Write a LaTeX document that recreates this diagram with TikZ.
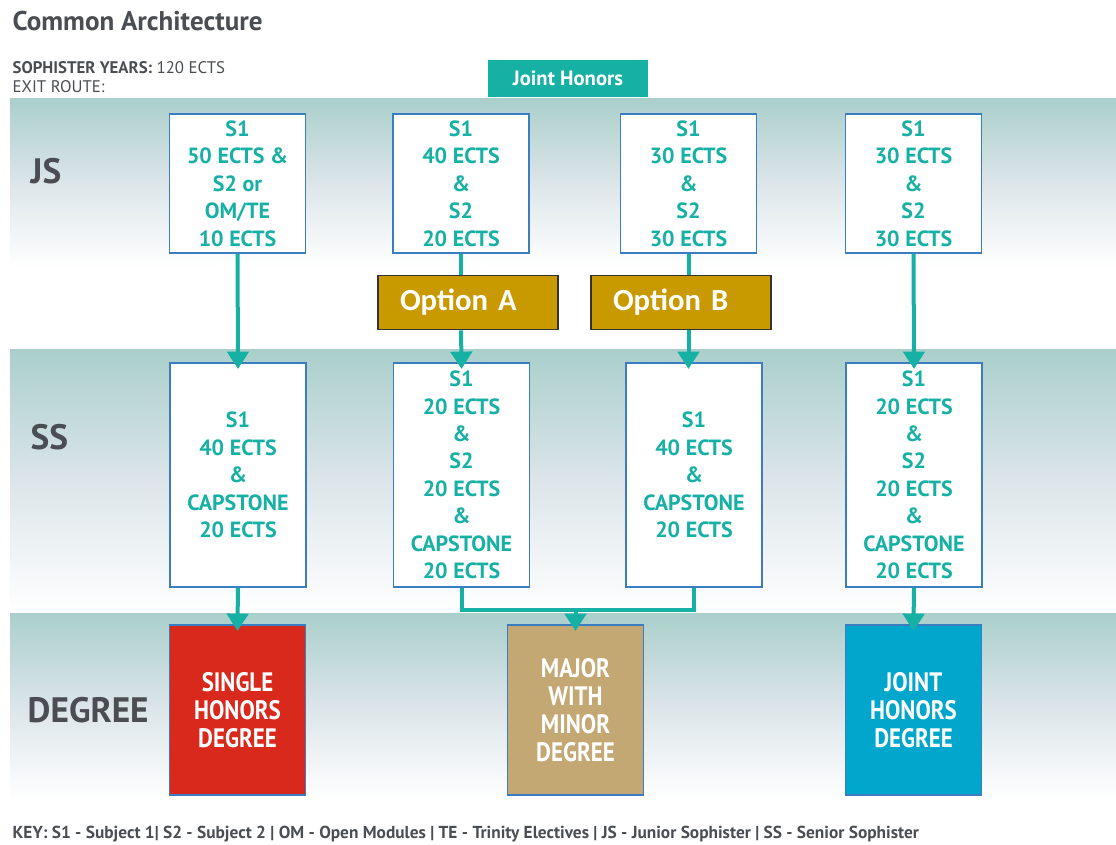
\documentclass[tikz,border=0pt]{standalone}
\usepackage{fontspec}
\setmainfont{PT Sans}
\newfontfamily\optfont{Carlito}
\newfontfamily\condfont[FakeStretch=0.86]{PT Sans}
\usetikzlibrary{arrows.meta,positioning}

\definecolor{tcdteal}{HTML}{16B1A4}
\definecolor{tcdgray}{HTML}{4A4D52}
\definecolor{bandtop}{HTML}{AACFCB}
\definecolor{bandmid}{HTML}{DCE5E9}
\definecolor{boxblue}{HTML}{3A7DC0}
\definecolor{optgold}{HTML}{C99A00}
\definecolor{sglred}{HTML}{D9291C}
\definecolor{majtan}{HTML}{C4A874}
\definecolor{jntblue}{HTML}{00A6CC}

\begin{document}
\begin{tikzpicture}[x=0.75pt,y=-0.75pt,
    modbox/.style={draw=boxblue,line width=1.1pt,fill=white,text=tcdteal,
        font=\bfseries\fontsize{16.5}{20.6}\selectfont,align=center,
        minimum width=102pt,inner sep=0pt},
    optbox/.style={draw=black!80,line width=0.9pt,fill=optgold,text=white,
        font=\optfont\bfseries\fontsize{23}{26}\selectfont,align=left,
        text width=102pt,inner xsep=16.5pt,minimum height=41pt},
    degbox/.style={draw=boxblue,line width=1.1pt,text=white,
        font=\condfont\bfseries\fontsize{20}{21}\selectfont,align=center,
        minimum width=102pt,minimum height=127.5pt,inner sep=0pt},
    rowlabel/.style={anchor=west,text=tcdgray,font=\bfseries\fontsize{26.5}{30}\selectfont},
    band/.style={top color=bandtop,bottom color=white,middle color=bandmid},
    flow/.style={draw=tcdteal,line width=3pt},
    flowarrow/.style={flow,-{Triangle[width=16pt,length=13pt]},shorten >=-5pt}]

\useasboundingbox (0,0) rectangle (1116,844);

% background bands
\shade[band] (10,98) rectangle (1116,267);
\shade[band] (10,349) rectangle (1116,612);
\shade[band] (10,613) rectangle (1116,800);

% headings
\node[anchor=base west,text=tcdgray,font=\bfseries\fontsize{20.3}{24}\selectfont] (title) at (8,30) {Common Architecture};
\node[anchor=base west,text=tcdgray,font=\fontsize{12.6}{14}\selectfont] (years) at (8,73) {\textbf{SOPHISTER YEARS:} 120 ECTS};
\node[anchor=base west,text=tcdgray,font=\fontsize{12.6}{14}\selectfont] (exit) at (8,92) {EXIT ROUTE:};
\node[fill=tcdteal,text=white,font=\bfseries\fontsize{15.5}{17}\selectfont,minimum width=120pt,minimum height=28pt] (joint) at (568,78.5) {Joint Honors};

% row labels
\node[rowlabel] (js) at (26,171) {JS};
\node[rowlabel] (ss) at (26,437) {SS};
\node[rowlabel] (deg) at (23,710) {DEGREE};

% junior sophister
\node[modbox,minimum height=104pt] (js1) at (237.5,183.5) {S1\\50 ECTS \&\\S2 or\\OM/TE\\10 ECTS};
\node[modbox,minimum height=104pt] (js2) at (461,183.5) {S1\\40 ECTS\\\&\\S2\\20 ECTS};
\node[modbox,minimum height=104pt] (js3) at (688.5,183.5) {S1\\30 ECTS\\\&\\S2\\30 ECTS};
\node[modbox,minimum height=104pt] (js4) at (913.5,183.5) {S1\\30 ECTS\\\&\\S2\\30 ECTS};

% options
\node[optbox] (optA) at (468,302.5) {Option A};
\node[optbox] (optB) at (681,302.5) {Option B};

% senior sophister
\node[modbox,minimum height=168pt] (ss1) at (238,475) {S1\\40 ECTS\\\&\\CAPSTONE\\20 ECTS};
\node[modbox,minimum height=168pt] (ss2) at (461.5,475) {S1\\20 ECTS\\\&\\S2\\20 ECTS\\\&\\CAPSTONE\\20 ECTS};
\node[modbox,minimum height=168pt] (ss3) at (694,475) {S1\\40 ECTS\\\&\\CAPSTONE\\20 ECTS};
\node[modbox,minimum height=168pt] (ss4) at (914,475) {S1\\20 ECTS\\\&\\S2\\20 ECTS\\\&\\CAPSTONE\\20 ECTS};

% degrees
\node[degbox,fill=sglred] (single) at (237.5,710) {SINGLE\\HONORS\\DEGREE};
\node[degbox,fill=majtan] (major) at (575.5,710) {MAJOR\\WITH\\MINOR\\DEGREE};
\node[degbox,fill=jntblue] (jointdeg) at (913.5,710) {JOINT\\HONORS\\DEGREE};

% connectors
\draw[flowarrow] (js1.south) -- (ss1.north);
\draw[flow] (js2.south) -- (js2.south |- optA.north);
\draw[flowarrow] (js2.south |- optA.south) -- (ss2.north);
\draw[flow] (js3.south) -- (js3.south |- optB.north);
\draw[flowarrow] (js3.south |- optB.south) -- (js3.south |- ss3.north);
\draw[flowarrow] (js4.south) -- (ss4.north);
\draw[flowarrow] (ss1.south) -- (single.north);
\coordinate (merge) at (575.5,610);
\draw[flow] (ss2.south) |- (merge) -| (ss3.south);
\draw[flowarrow] (merge) -- (major.north);
\draw[flowarrow] (ss4.south) -- (jointdeg.north);

% key
\node[anchor=base west,text=tcdgray,font=\bfseries\fontsize{13}{15}\selectfont] (key) at (8,838)
    {KEY: S1 - Subject 1| S2 - Subject 2 | OM - Open Modules | TE - Trinity Electives | JS - Junior Sophister | SS - Senior Sophister};
\end{tikzpicture}
\end{document}
